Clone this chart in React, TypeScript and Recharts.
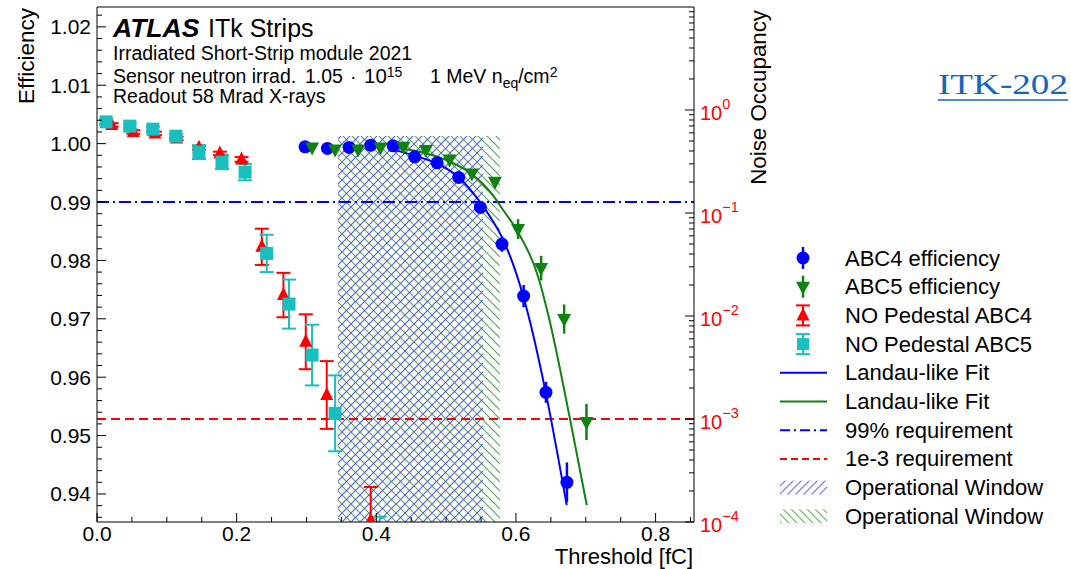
import React from 'react';
import {
  ComposedChart, XAxis, YAxis, Scatter, Line, ErrorBar,
  ReferenceLine, ReferenceArea, Legend,
} from 'recharts';

const W = 1071;
const H = 569;
const PLOT_LEFT = 97;
const PLOT_RIGHT = 694;
const PLOT_TOP = 7;
const PLOT_BOTTOM = 522;
const FONT = '"Liberation Sans", Arial, Helvetica, sans-serif';

const BLUE = '#0000ff';
const GREEN = '#0f820f';
const RED = '#ff0000';
const CYAN = '#19bfbf';

// ABC4 efficiency (blue circles)
const abc4Threshold = [0.298, 0.330, 0.361, 0.392, 0.424, 0.455, 0.487, 0.518, 0.549, 0.580, 0.611, 0.643, 0.673];
const abc4Eff = [0.99945, 0.99918, 0.99935, 0.99974, 0.99962, 0.99774, 0.99671, 0.99421, 0.98908, 0.9828, 0.97389, 0.95741, 0.942];
const abc4Err = [0.0003, 0.0003, 0.0003, 0.0003, 0.0003, 0.0003, 0.0004, 0.0005, 0.0008, 0.0013, 0.0019, 0.0018, 0.0034];

// ABC5 efficiency (green triangles)
const abc5Threshold = [0.308, 0.341, 0.374, 0.406, 0.439, 0.471, 0.505, 0.537, 0.570, 0.603, 0.636, 0.669, 0.701];
const abc5Eff = [0.99935, 0.99901, 0.99901, 0.99935, 0.99945, 0.99889, 0.99729, 0.9949, 0.99346, 0.98536, 0.97869, 0.96996, 0.95233];
const abc5Err = [0.0003, 0.0003, 0.0003, 0.0003, 0.0003, 0.0003, 0.0004, 0.0005, 0.0006, 0.0017, 0.0021, 0.0025, 0.0031];

// NO Pedestal ABC4 (red)
const pedAbc4Threshold = [0.021, 0.052, 0.083, 0.114, 0.146, 0.176, 0.207, 0.236, 0.267, 0.299, 0.329, 0.392];
const pedAbc4Eff = [1.0032, 1.002, 1.00175, 1.0009, 0.99928, 0.99832, 0.9973, 0.98233, 0.97407, 0.96607, 0.95695, 0.9355];
const pedAbc4Err = [0.0003, 0.0003, 0.0003, 0.0003, 0.0003, 0.0003, 0.0004, 0.0031, 0.0038, 0.0047, 0.0058, 0.0057];

// NO Pedestal ABC5 (cyan)
const pedAbc5Threshold = [0.013, 0.047, 0.080, 0.113, 0.146, 0.179, 0.212, 0.243, 0.275, 0.308, 0.341, 0.405];
const pedAbc5Eff = [1.00373, 1.003, 1.00248, 1.00128, 0.99855, 0.99683, 0.99512, 0.9812, 0.97252, 0.96379, 0.95381, 0.9305];
const pedAbc5Err = [0.0004, 0.0004, 0.0004, 0.0004, 0.0012, 0.0012, 0.0014, 0.0032, 0.0042, 0.0052, 0.0065, 0.0056];

// Landau-like fits
const abc4FitX = [0.42, 0.453, 0.4865, 0.5175, 0.5486, 0.5629, 0.5819, 0.6106, 0.6178, 0.6426, 0.6727];
const abc4FitEff = [0.9991, 0.998, 0.9966, 0.9943, 0.99, 0.9875, 0.9835, 0.9738, 0.9706, 0.9574, 0.9381];
const abc5FitX = [0.42, 0.434, 0.4722, 0.5056, 0.539, 0.5629, 0.5819, 0.6011, 0.6345, 0.6464, 0.6775, 0.7014];
const abc5FitEff = [0.9995, 0.9992, 0.9983, 0.9969, 0.9946, 0.9918, 0.9886, 0.9852, 0.9761, 0.9706, 0.9528, 0.9381];

// requirements and operational windows
const effRequirement = 0.99;
const occRequirement = 1e-3;
const windowStart = 0.345;
const windowEndAbc4 = 0.553;
const windowEndAbc5 = 0.577;
const windowTop = 1.0013;

// axes
const xDomain = [0, 0.855];
const effDomain = [0.9352, 1.0234];
const occDomain = [1e-4, 10];
const xMajor = [0, 0.2, 0.4, 0.6, 0.8];
const xLabels = ['0.0', '0.2', '0.4', '0.6', '0.8'];
const effMajor = [0.94, 0.95, 0.96, 0.97, 0.98, 0.99, 1.0, 1.01, 1.02];
const effLabels = ['0.94', '0.95', '0.96', '0.97', '0.98', '0.99', '1.00', '1.01', '1.02'];
const occExponents = [-4, -3, -2, -1, 0];
const occLabels = ['\u22124', '\u22123', '\u22122', '\u22121', '0'];

const xTicks: number[] = [];
for (let k = 0; k <= 17; k++) xTicks.push(+(k * 0.05).toFixed(3));
const effTicks: number[] = [];
for (let k = 468; k <= 511; k++) effTicks.push(+(k * 0.002).toFixed(4));
const occTicks: number[] = [];
occExponents.forEach((e) => {
  for (let m = 1; m <= 9; m++) occTicks.push(m * Math.pow(10, e));
});

const legendLabels = [
  'ABC4 efficiency', 'ABC5 efficiency', 'NO Pedestal ABC4', 'NO Pedestal ABC5',
  'Landau-like Fit', 'Landau-like Fit', '99% requirement', '1e-3 requirement',
  'Operational Window', 'Operational Window',
];
const legendKinds = ['circle', 'down', 'up', 'square', 'line', 'line', 'dashdot', 'dash', 'hatchBlue', 'hatchGreen'];
const legendColors = [BLUE, GREEN, RED, CYAN, BLUE, GREEN, BLUE, RED, BLUE, GREEN];

const toPoints = (xs: number[], ys: number[], errs?: number[]) =>
  xs.map((x, i) => ({ x, y: ys[i], err: errs ? errs[i] : 0 }));

const abc4Data = toPoints(abc4Threshold, abc4Eff, abc4Err);
const abc5Data = toPoints(abc5Threshold, abc5Eff, abc5Err);
const pedAbc4Data = toPoints(pedAbc4Threshold, pedAbc4Eff, pedAbc4Err);
const pedAbc5Data = toPoints(pedAbc5Threshold, pedAbc5Eff, pedAbc5Err);
const abc4Fit = toPoints(abc4FitX, abc4FitEff);
const abc5Fit = toPoints(abc5FitX, abc5FitEff);

const near = (a: number, b: number) => Math.abs(a - b) < 1e-6;

// markers
const CircleMark = (p: any) => <circle cx={p.cx} cy={p.cy} r={6.5} fill={BLUE} />;
const DownMark = (p: any) => (
  <path d={`M${p.cx - 7},${p.cy - 5}L${p.cx + 7},${p.cy - 5}L${p.cx},${p.cy + 8}Z`} fill={GREEN} />
);
const UpMark = (p: any) => (
  <path d={`M${p.cx - 6.5},${p.cy + 5}L${p.cx + 6.5},${p.cy + 5}L${p.cx},${p.cy - 8}Z`} fill={RED} />
);
const SquareMark = (p: any) => <rect x={p.cx - 6.5} y={p.cy - 6.5} width={13} height={13} fill={CYAN} />;

// ticks drawn inward, ROOT style
function XTick(props: any) {
  const { x, payload } = props;
  const i = xMajor.findIndex((m) => near(m, payload.value));
  return (
    <g>
      <line x1={x} x2={x} y1={PLOT_BOTTOM} y2={PLOT_BOTTOM - (i >= 0 ? 9 : 5)} stroke="#000" />
      {i >= 0 && (
        <text x={x} y={541} textAnchor="middle" fontSize={21} fontFamily={FONT} fill="#000">{xLabels[i]}</text>
      )}
    </g>
  );
}

function TopTick(props: any) {
  const { x, payload } = props;
  const major = xMajor.some((m) => near(m, payload.value));
  return <line x1={x} x2={x} y1={PLOT_TOP} y2={PLOT_TOP + (major ? 9 : 5)} stroke="#000" />;
}

function EffTick(props: any) {
  const { y, payload } = props;
  const i = effMajor.findIndex((m) => near(m, payload.value));
  return (
    <g>
      <line x1={PLOT_LEFT} x2={PLOT_LEFT + (i >= 0 ? 9 : 5)} y1={y} y2={y} stroke="#000" />
      {i >= 0 && (
        <text x={PLOT_LEFT - 6} y={y + 7.5} textAnchor="end" fontSize={21} fontFamily={FONT} fill="#000">{effLabels[i]}</text>
      )}
    </g>
  );
}

function OccTick(props: any) {
  const { y, payload } = props;
  const lg = Math.log10(payload.value);
  const i = occExponents.findIndex((e) => Math.abs(e - lg) < 1e-9);
  return (
    <g>
      <line x1={PLOT_RIGHT} x2={PLOT_RIGHT - (i >= 0 ? 9 : 5)} y1={y} y2={y} stroke="#000" />
      {i >= 0 && (
        <text x={PLOT_RIGHT + 6} y={y + 10} fontSize={20} fontFamily={FONT} fill={RED}>
          10<tspan dy={-11} fontSize={14.5}>{occLabels[i]}</tspan>
        </text>
      )}
    </g>
  );
}

function legendSymbol(kind: string, color: string, cy: number) {
  const cx = 33;
  switch (kind) {
    case 'circle':
      return (
        <g>
          <line x1={cx} x2={cx} y1={cy - 11} y2={cy + 11} stroke={color} strokeWidth={2.5} />
          <circle cx={cx} cy={cy} r={6.5} fill={color} />
        </g>
      );
    case 'down':
      return (
        <g>
          <line x1={cx} x2={cx} y1={cy - 11} y2={cy + 11} stroke={color} strokeWidth={2.5} />
          <path d={`M${cx - 7},${cy - 5}L${cx + 7},${cy - 5}L${cx},${cy + 8}Z`} fill={color} />
        </g>
      );
    case 'up':
    case 'square':
      return (
        <g stroke={color} strokeWidth={2}>
          <line x1={cx} x2={cx} y1={cy - 10} y2={cy + 10} />
          <line x1={cx - 7} x2={cx + 7} y1={cy - 10} y2={cy - 10} />
          <line x1={cx - 7} x2={cx + 7} y1={cy + 10} y2={cy + 10} />
          {kind === 'up'
            ? <path d={`M${cx - 6.5},${cy + 5}L${cx + 6.5},${cy + 5}L${cx},${cy - 8}Z`} fill={color} stroke="none" />
            : <rect x={cx - 6} y={cy - 6} width={12} height={12} fill={color} stroke="none" />}
        </g>
      );
    case 'line':
      return <line x1={10} x2={57} y1={cy} y2={cy} stroke={color} strokeWidth={2} />;
    case 'dashdot':
      return <line x1={10} x2={57} y1={cy} y2={cy} stroke={color} strokeWidth={2} strokeDasharray="10 4 2 4" />;
    case 'dash':
      return <line x1={10} x2={57} y1={cy} y2={cy} stroke={color} strokeWidth={2} strokeDasharray="7 4" />;
    case 'hatchBlue':
      return <rect x={10} y={cy - 7} width={47} height={14} fill="url(#legendHatchBlue)" />;
    default:
      return <rect x={10} y={cy - 7} width={47} height={14} fill="url(#legendHatchGreen)" />;
  }
}

function LegendBox() {
  return (
    <svg width={300} height={300}>
      {legendLabels.map((label, i) => {
        const cy = 18 + i * 28.7;
        return (
          <g key={i}>
            {legendSymbol(legendKinds[i], legendColors[i], cy)}
            <text x={75} y={cy + 7.5} fontSize={22} fontFamily={FONT} fill="#000">{label}</text>
          </g>
        );
      })}
    </svg>
  );
}

const clipCss =
  '.recharts-scatter, .recharts-scatter-symbol, .recharts-errorBars, .recharts-errorBar { clip-path: url(#plotClip); }';

export default function App() {
  return (
    <div style={{ position: 'absolute', left: 0, top: 0, width: W, height: H, background: '#fff' }}>
      <style>{clipCss}</style>
      <svg width={0} height={0} style={{ position: 'absolute' }}>
        <defs>
          <clipPath id="plotClip" clipPathUnits="userSpaceOnUse">
            <rect x={PLOT_LEFT} y={PLOT_TOP} width={PLOT_RIGHT - PLOT_LEFT} height={PLOT_BOTTOM - PLOT_TOP} />
          </clipPath>
          <pattern id="hatchBlue" width={9} height={9} patternUnits="userSpaceOnUse">
            <path d="M0,9L9,0M-2,2L2,-2M7,11L11,7" stroke="#5555f0" strokeWidth={1.1} />
          </pattern>
          <pattern id="hatchGreen" width={9} height={9} patternUnits="userSpaceOnUse">
            <path d="M0,0L9,9M-2,7L2,11M7,-2L11,2" stroke="#55a355" strokeWidth={1.1} />
          </pattern>
          <pattern id="legendHatchBlue" width={8} height={8} patternUnits="userSpaceOnUse">
            <path d="M0,8L8,0M-2,2L2,-2M6,10L10,6" stroke="#7070f0" strokeWidth={1.2} />
          </pattern>
          <pattern id="legendHatchGreen" width={8} height={8} patternUnits="userSpaceOnUse">
            <path d="M0,0L8,8M-2,6L2,10M6,-2L10,2" stroke="#6aae6a" strokeWidth={1.2} />
          </pattern>
        </defs>
      </svg>
      <ComposedChart width={W} height={H} margin={{ top: 7, right: 317, bottom: 17, left: 37 }}>
        <XAxis type="number" dataKey="x" domain={xDomain} ticks={xTicks} interval={0} allowDataOverflow
          height={30} tickLine={false} tick={<XTick />} axisLine={{ stroke: '#000' }} />
        <XAxis xAxisId="top" orientation="top" type="number" dataKey="x" domain={xDomain} ticks={xTicks}
          interval={0} allowDataOverflow height={0} tickLine={false} tick={<TopTick />} axisLine={{ stroke: '#000' }} />
        <YAxis yAxisId="eff" type="number" dataKey="y" domain={effDomain} ticks={effTicks} interval={0}
          allowDataOverflow width={60} tickLine={false} tick={<EffTick />} axisLine={{ stroke: '#000' }} />
        <YAxis yAxisId="occ" orientation="right" type="number" scale="log" domain={occDomain} ticks={occTicks}
          interval={0} allowDataOverflow width={60} tickLine={false} tick={<OccTick />} axisLine={{ stroke: '#000' }} />

        <ReferenceArea yAxisId="eff" x1={windowStart} x2={windowEndAbc5} y1={effDomain[0]} y2={windowTop}
          fill="url(#hatchGreen)" fillOpacity={1} stroke="none" />
        <ReferenceArea yAxisId="eff" x1={windowStart} x2={windowEndAbc4} y1={effDomain[0]} y2={windowTop}
          fill="url(#hatchBlue)" fillOpacity={1} stroke="none" />
        <ReferenceLine yAxisId="eff" y={effRequirement} stroke={BLUE} strokeWidth={2} strokeDasharray="12 4 2 4" />
        <ReferenceLine yAxisId="occ" y={occRequirement} stroke={RED} strokeWidth={2} strokeDasharray="9 5" />

        <Scatter data={pedAbc4Data} yAxisId="eff" shape={UpMark} isAnimationActive={false}>
          <ErrorBar dataKey="err" direction="y" width={7} stroke={RED} strokeWidth={2} />
        </Scatter>
        <Scatter data={pedAbc5Data} yAxisId="eff" shape={SquareMark} isAnimationActive={false}>
          <ErrorBar dataKey="err" direction="y" width={7} stroke={CYAN} strokeWidth={2} />
        </Scatter>
        <Line data={abc4Fit} dataKey="y" yAxisId="eff" type="monotone" stroke={BLUE} strokeWidth={2}
          dot={false} activeDot={false} isAnimationActive={false} />
        <Line data={abc5Fit} dataKey="y" yAxisId="eff" type="monotone" stroke={GREEN} strokeWidth={2}
          dot={false} activeDot={false} isAnimationActive={false} />
        <Scatter data={abc4Data} yAxisId="eff" shape={CircleMark} isAnimationActive={false}>
          <ErrorBar dataKey="err" direction="y" width={0} stroke={BLUE} strokeWidth={2.5} />
        </Scatter>
        <Scatter data={abc5Data} yAxisId="eff" shape={DownMark} isAnimationActive={false}>
          <ErrorBar dataKey="err" direction="y" width={0} stroke={GREEN} strokeWidth={2.5} />
        </Scatter>

        <Legend layout="vertical" align="center" verticalAlign="middle" content={<LegendBox />}
          wrapperStyle={{ left: 770, top: 240, width: 300, height: 300 }} />
      </ComposedChart>

      <svg width={W} height={H} style={{ position: 'absolute', left: 0, top: 0, pointerEvents: 'none' }}>
        <line x1={PLOT_LEFT} x2={PLOT_RIGHT} y1={PLOT_TOP} y2={PLOT_TOP} stroke="#000" />
        <text fontFamily={FONT} fill="#000">
          <tspan x={113} y={37} fontSize={26.5} fontWeight="bold" fontStyle="italic">ATLAS</tspan>
          <tspan x={208} y={37} fontSize={25}>ITk Strips</tspan>
        </text>
        <text x={113} y={60} fontSize={19.5} fontFamily={FONT} fill="#000">Irradiated Short-Strip module 2021</text>
        <text x={113} y={83} fontSize={19.5} fontFamily={FONT} fill="#000">
          Sensor neutron irrad.
          <tspan x={305}>1.05</tspan>
          <tspan x={350}>·</tspan>
          <tspan x={364} fontSize={20.5}>10</tspan>
          <tspan dy={-6} fontSize={14}>15</tspan>
          <tspan x={430} dy={6}>1 MeV n</tspan>
          <tspan dy={5} fontSize={14}>eq</tspan>
          <tspan dy={-5}>/cm</tspan>
          <tspan dy={-6} fontSize={14}>2</tspan>
        </text>
        <text x={113} y={103} fontSize={19.5} fontFamily={FONT} fill="#000">Readout 58 Mrad X-rays</text>
        <text transform="translate(34,8) rotate(-90)" textAnchor="end" fontSize={22.5} fontFamily={FONT} fill="#000">Efficiency</text>
        <text transform="translate(766,10) rotate(-90)" textAnchor="end" fontSize={22.3} fontFamily={FONT} fill="#000">Noise Occupancy</text>
        <text x={693} y={564} textAnchor="end" fontSize={22} fontFamily={FONT} fill="#000">Threshold [fC]</text>
        <text x={938} y={94} fontSize={30} fontFamily='"Liberation Serif", "Times New Roman", serif' fill="#1565c0"
          textLength={130} lengthAdjust="spacingAndGlyphs">ITK-202</text>
        <line x1={938} x2={1068} y1={100} y2={100} stroke="#1565c0" strokeWidth={1.5} />
      </svg>
    </div>
  );
}
